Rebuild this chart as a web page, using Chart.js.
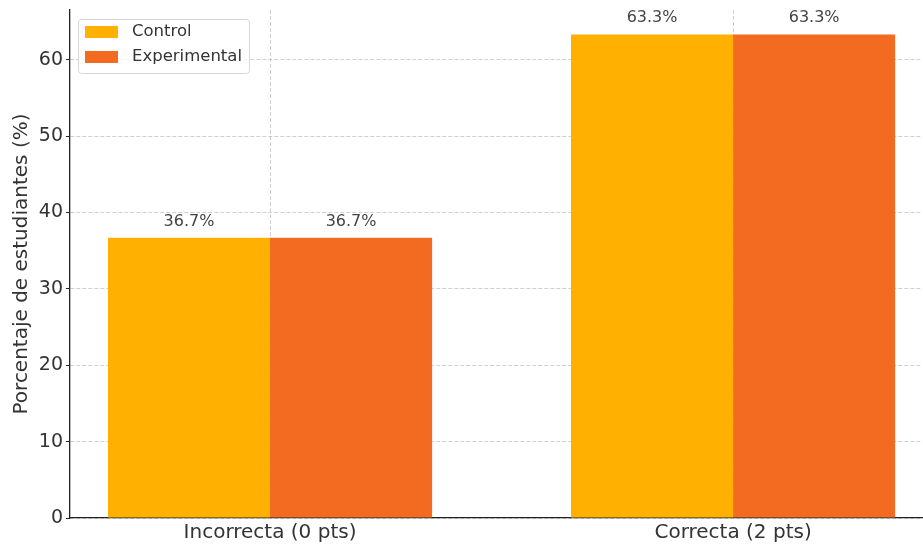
<!DOCTYPE html>
<html>
<head>
<meta charset="utf-8">
<script src="https://cdn.jsdelivr.net/npm/chart.js@4/dist/chart.umd.min.js"></script>
<style>
  html, body { margin: 0; padding: 0; background: #fff; }
  #wrap { width: 923px; height: 546px; position: relative; }
</style>
</head>
<body>
<div id="wrap"><canvas id="myChart" width="923" height="546"></canvas></div>
<script>
// datos
const categories = ["Incorrecta (0 pts)", "Correcta (2 pts)"];
const seriesNames = ["Control", "Experimental"];
const controlValues = [36.7, 63.3];
const experimentalValues = [36.7, 63.3];
const yTicks = [0, 10, 20, 30, 40, 50, 60];

const colors = ["#FFB000", "#F26B21"];
const font = "DejaVu Sans";

// etiquetas de valor sobre cada barra + título del eje y + leyenda
const extras = {
    id: "extras",
    afterDatasetsDraw(chart) {
        const ctx = chart.ctx;
        ctx.save();
        ctx.font = "16px '" + font + "'";
        ctx.fillStyle = "#444";
        ctx.textAlign = "center";
        ctx.textBaseline = "alphabetic";
        chart.data.datasets.forEach((ds, i) => {
            const meta = chart.getDatasetMeta(i);
            meta.data.forEach((bar, j) => {
                ctx.fillText(ds.data[j].y.toFixed(1) + "%", bar.x, bar.y - 12);
            });
        });

        // leyenda dentro del área
        const lx = 78, ly = 19, lw = 171, lh = 54;
        ctx.fillStyle = "rgba(255,255,255,0.8)";
        ctx.strokeStyle = "#d6d6d6";
        ctx.lineWidth = 1;
        ctx.beginPath();
        ctx.roundRect(lx + 0.5, ly + 0.5, lw, lh, 3);
        ctx.fill();
        ctx.stroke();
        ctx.font = "16.5px '" + font + "'";
        ctx.textAlign = "left";
        ctx.textBaseline = "middle";
        seriesNames.forEach((name, i) => {
            const y = 32 + i * 25;
            ctx.fillStyle = colors[i];
            ctx.fillRect(85, y - 6, 33, 12);
            ctx.fillStyle = "#333";
            ctx.fillText(name, 132, y);
        });

        // título del eje y
        ctx.font = "20px '" + font + "'";
        ctx.fillStyle = "#333";
        ctx.textAlign = "center";
        ctx.translate(22, (chart.chartArea.top + chart.chartArea.bottom) / 2);
        ctx.rotate(-Math.PI / 2);
        ctx.fillText("Porcentaje de estudiantes (%)", 0, 0);
        ctx.restore();
    }
};

const ctx = document.getElementById("myChart").getContext("2d");

new Chart(ctx, {
    type: "bar",
    data: {
        datasets: [
            {
                label: seriesNames[0],
                data: categories.map((c, i) => ({ x: i, y: controlValues[i] })),
                backgroundColor: colors[0],
                borderWidth: 0
            },
            {
                label: seriesNames[1],
                data: categories.map((c, i) => ({ x: i, y: experimentalValues[i] })),
                backgroundColor: colors[1],
                borderWidth: 0
            }
        ]
    },
    options: {
        responsive: false,
        animation: false,
        categoryPercentage: 0.7,
        barPercentage: 1.0,
        layout: { padding: { top: 10, right: 1, left: 0, bottom: 0 } },
        plugins: {
            legend: { display: false },
            tooltip: { enabled: false }
        },
        scales: {
            x: {
                type: "linear",
                min: -0.432,
                max: 1.408,
                offset: false,
                z: 1,
                afterBuildTicks: s => { s.ticks = categories.map((c, i) => ({ value: i })); },
                afterFit: s => { s.height = 28; s.paddingLeft = 0; s.paddingRight = 0; },
                ticks: {
                    callback: v => categories[v],
                    font: { family: font, size: 20 },
                    color: "#333",
                    padding: 3,
                    maxRotation: 0
                },
                grid: {
                    offset: false,
                    color: "rgba(176,176,176,0.6)",
                    drawTicks: false
                },
                border: { display: true, color: "#222", width: 1.3, dash: [4, 2] }
            },
            y: {
                min: 0,
                max: 66.5,
                afterBuildTicks: s => { s.ticks = yTicks.map(v => ({ value: v })); },
                afterFit: s => { s.width = 70; s.paddingTop = 0; s.paddingBottom = 0; },
                ticks: {
                    font: { family: font, size: 19 },
                    color: "#333",
                    padding: 3
                },
                grid: {
                    color: "rgba(176,176,176,0.6)",
                    tickColor: "#222",
                    tickBorderDash: [],
                    tickLength: 4
                },
                border: { display: true, color: "#222", width: 1.3, dash: [4, 2] }
            }
        }
    },
    plugins: [extras]
});
</script>
</body>
</html>
